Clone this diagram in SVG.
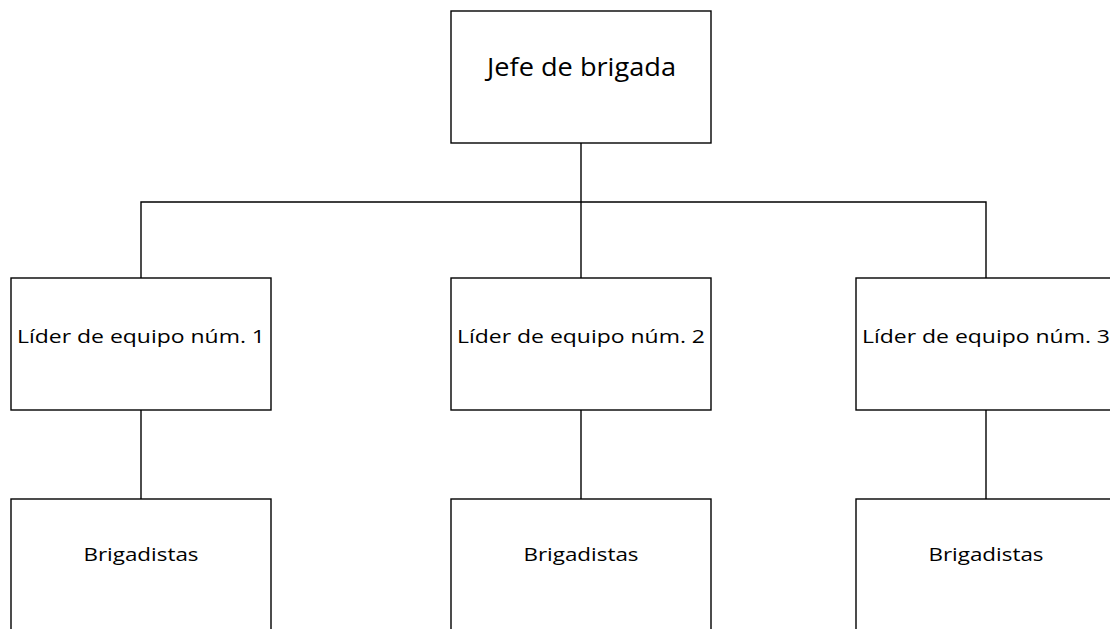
<svg xmlns="http://www.w3.org/2000/svg" width="1110" height="629" viewBox="0 0 1110 629">
<style>
.box{fill:#fff;stroke:#000;stroke-width:1.4}
.ln{fill:none;stroke:#000;stroke-width:1.4}
.t{font-family:"Open Sans","Liberation Sans",sans-serif;fill:#000;text-anchor:middle}
</style>
<rect width="1110" height="629" fill="#fff"/>
<g id="connectors">
<line class="ln" x1="581" y1="143" x2="581" y2="278"/>
<polyline class="ln" points="141,278 141,202 986,202 986,278"/>
<line class="ln" x1="141" y1="410" x2="141" y2="499"/>
<line class="ln" x1="581" y1="410" x2="581" y2="499"/>
<line class="ln" x1="986" y1="410" x2="986" y2="499"/>
</g>
<g id="jefe">
<rect class="box" x="451" y="11" width="260" height="132"/>
<text class="t" x="581.5" y="76" font-size="25" textLength="189" lengthAdjust="spacingAndGlyphs">Jefe de brigada</text>
</g>
<g id="lider1">
<rect class="box" x="11" y="278" width="260" height="132"/>
<text class="t" x="141" y="343" font-size="19" textLength="248" lengthAdjust="spacingAndGlyphs">Líder de equipo núm. 1</text>
</g>
<g id="lider2">
<rect class="box" x="451" y="278" width="260" height="132"/>
<text class="t" x="581" y="343" font-size="19" textLength="248" lengthAdjust="spacingAndGlyphs">Líder de equipo núm. 2</text>
</g>
<g id="lider3">
<rect class="box" x="856" y="278" width="260" height="132"/>
<text class="t" x="986" y="343" font-size="19" textLength="248" lengthAdjust="spacingAndGlyphs">Líder de equipo núm. 3</text>
</g>
<g id="brig1">
<rect class="box" x="11" y="499" width="260" height="140"/>
<text class="t" x="141" y="561" font-size="19" textLength="115" lengthAdjust="spacingAndGlyphs">Brigadistas</text>
</g>
<g id="brig2">
<rect class="box" x="451" y="499" width="260" height="140"/>
<text class="t" x="581" y="561" font-size="19" textLength="115" lengthAdjust="spacingAndGlyphs">Brigadistas</text>
</g>
<g id="brig3">
<rect class="box" x="856" y="499" width="260" height="140"/>
<text class="t" x="986" y="561" font-size="19" textLength="115" lengthAdjust="spacingAndGlyphs">Brigadistas</text>
</g>
</svg>
